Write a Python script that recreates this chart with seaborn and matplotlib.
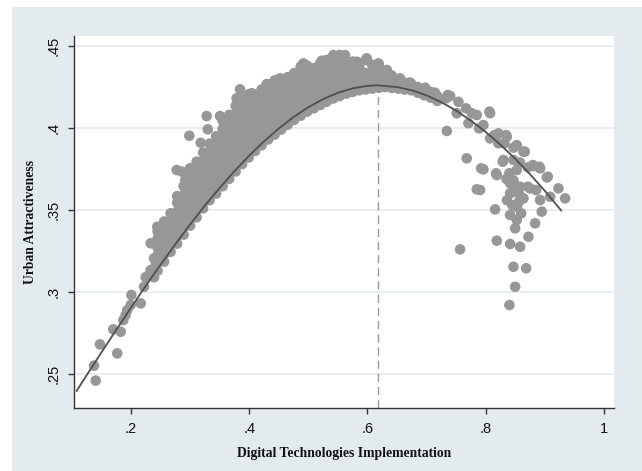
import numpy as np
import pandas as pd
import matplotlib
matplotlib.use("Agg")
import matplotlib.pyplot as plt
from matplotlib.patches import Rectangle
import seaborn as sns

# ---------------- data ----------------
left_x = [0.1403, 0.1374, 0.1475, 0.1768, 0.1700, 0.1826, 0.1870, 0.1910, 0.1937, 0.1995,
          0.2006, 0.2164, 0.2220, 0.2248, 0.2305, 0.2333, 0.2390, 0.2390, 0.2333, 0.2418,
          0.2474, 0.2445]
left_y = [0.2460, 0.2551, 0.2681, 0.2626, 0.2773, 0.2758, 0.2829, 0.2860, 0.2890, 0.2921,
          0.2982, 0.2931, 0.3032, 0.3090, 0.3104, 0.3134, 0.3090, 0.3205, 0.3297, 0.3165,
          0.3317, 0.3398]

cloud_col_x = [0.245, 0.256, 0.267, 0.278, 0.289, 0.300, 0.311, 0.322, 0.333, 0.344,
               0.355, 0.366, 0.377, 0.388, 0.399, 0.410, 0.421, 0.432, 0.443, 0.454,
               0.465, 0.476, 0.487, 0.498, 0.509, 0.520, 0.531, 0.542, 0.553, 0.564,
               0.575, 0.586, 0.597, 0.608, 0.619, 0.630, 0.641, 0.652, 0.663, 0.674,
               0.685, 0.696, 0.707, 0.718]
cloud_col_y = [
    [0.313, 0.318, 0.3225, 0.327, 0.3325, 0.337],
    [0.3185, 0.323, 0.328, 0.3335, 0.338, 0.343],
    [0.3245, 0.329, 0.334, 0.3385, 0.3435, 0.348],
    [0.3295, 0.334, 0.3395, 0.344, 0.349, 0.3545, 0.3585],
    [0.335, 0.3395, 0.3445, 0.3495, 0.354, 0.359, 0.3645],
    [0.3405, 0.3455, 0.350, 0.355, 0.3595, 0.365, 0.370, 0.3755],
    [0.3455, 0.350, 0.355, 0.3595, 0.3645, 0.369, 0.374, 0.3795],
    [0.351, 0.3555, 0.360, 0.365, 0.370, 0.3745, 0.380, 0.385],
    [0.356, 0.3605, 0.366, 0.3705, 0.3755, 0.3805, 0.386, 0.3905],
    [0.360, 0.365, 0.370, 0.3745, 0.380, 0.3845, 0.390, 0.395],
    [0.3645, 0.3695, 0.3745, 0.3795, 0.3845, 0.3895, 0.3945, 0.3995, 0.4045],
    [0.369, 0.374, 0.379, 0.3835, 0.389, 0.394, 0.3985, 0.4035, 0.408],
    [0.3735, 0.3785, 0.3835, 0.3885, 0.3935, 0.3985, 0.4035, 0.4085, 0.4135],
    [0.378, 0.383, 0.388, 0.3925, 0.3975, 0.4025, 0.4075, 0.4125, 0.4175],
    [0.382, 0.387, 0.392, 0.397, 0.4015, 0.4065, 0.4115, 0.4165, 0.4205],
    [0.386, 0.391, 0.396, 0.4005, 0.4055, 0.4105, 0.4155, 0.4205],
    [0.3895, 0.394, 0.399, 0.404, 0.409, 0.414, 0.419, 0.4235],
    [0.393, 0.398, 0.4025, 0.4075, 0.4125, 0.4175, 0.422, 0.4265],
    [0.396, 0.401, 0.406, 0.411, 0.416, 0.4205, 0.425, 0.429],
    [0.399, 0.404, 0.409, 0.414, 0.419, 0.424, 0.4285],
    [0.402, 0.407, 0.412, 0.417, 0.422, 0.4265, 0.431],
    [0.405, 0.410, 0.415, 0.420, 0.425, 0.4295, 0.4335],
    [0.4075, 0.4125, 0.4175, 0.4225, 0.4275, 0.4325, 0.4375],
    [0.410, 0.415, 0.420, 0.425, 0.430, 0.4345, 0.438],
    [0.412, 0.417, 0.422, 0.427, 0.432, 0.4365],
    [0.414, 0.419, 0.424, 0.429, 0.434, 0.4395],
    [0.416, 0.421, 0.426, 0.431, 0.436, 0.4415],
    [0.418, 0.423, 0.428, 0.433, 0.438, 0.4435],
    [0.4195, 0.4245, 0.4295, 0.4345, 0.4395, 0.4445],
    [0.421, 0.426, 0.431, 0.436, 0.441],
    [0.422, 0.427, 0.432, 0.4365, 0.4405],
    [0.423, 0.428, 0.433, 0.4375],
    [0.4235, 0.4285, 0.4335, 0.4415],
    [0.424, 0.429, 0.434, 0.4385],
    [0.4245, 0.4295, 0.4345, 0.439],
    [0.425, 0.4295, 0.4345],
    [0.4245, 0.4285, 0.432],
    [0.424, 0.4285],
    [0.4235, 0.4275],
    [0.423, 0.427],
    [0.4215, 0.425],
    [0.420, 0.4235],
    [0.4185, 0.422],
    [0.4165, 0.4195],
]

top_x = [0.2773, 0.2858, 0.2920, 0.2987, 0.3179, 0.3280, 0.3298, 0.3505, 0.3787, 0.3844,
         0.4042, 0.4296, 0.4521, 0.4916, 0.5227, 0.5424, 0.5620, 0.5819, 0.5988, 0.6184,
         0.6327, 0.6383, 0.6550, 0.6720, 0.6975, 0.7144]
top_y = [0.3744, 0.3734, 0.3683, 0.3953, 0.3910, 0.4073, 0.3992, 0.4073, 0.4181, 0.4236,
         0.4212, 0.4268, 0.4303, 0.4394, 0.4410, 0.4445, 0.4445, 0.4404, 0.4425, 0.4394,
         0.4354, 0.4323, 0.4303, 0.4277, 0.4246, 0.4215]

right_x = [0.7342, 0.7330, 0.7398, 0.7358, 0.7538, 0.7510, 0.7668, 0.7764, 0.7849, 0.8063,
           0.8074, 0.7707, 0.7961, 0.7888, 0.8074, 0.8148, 0.8215, 0.8345, 0.8356, 0.8215,
           0.8317, 0.8470, 0.8525, 0.8638, 0.8660, 0.8300, 0.8288, 0.8469, 0.8580, 0.7679,
           0.7961, 0.7922, 0.8187, 0.8176, 0.8400, 0.8525, 0.8712, 0.8797, 0.8806, 0.8909,
           0.8920, 0.9033, 0.9050, 0.7849, 0.7905, 0.8413, 0.8470, 0.8582, 0.8712, 0.8751,
           0.8853, 0.8413, 0.8500, 0.8638, 0.8560, 0.8920, 0.9089, 0.9230, 0.9343, 0.8525,
           0.8159, 0.8413, 0.8948, 0.8836, 0.8525, 0.8498, 0.8723, 0.8187, 0.8413, 0.8582,
           0.7567, 0.8469, 0.8684, 0.8498, 0.8401, 0.8350, 0.8560, 0.8450, 0.8600, 0.8360]
right_y = [0.3982, 0.4181, 0.4195, 0.4201, 0.4160, 0.4090, 0.4120, 0.4090, 0.4079, 0.4100,
           0.4090, 0.4029, 0.4018, 0.3998, 0.3937, 0.3957, 0.3967, 0.3957, 0.3947, 0.3907,
           0.3907, 0.3880, 0.3896, 0.3856, 0.3856, 0.3805, 0.3795, 0.3805, 0.3790, 0.3815,
           0.3748, 0.3754, 0.3713, 0.3724, 0.3724, 0.3744, 0.3760, 0.3774, 0.3768, 0.3764,
           0.3754, 0.3699, 0.3703, 0.3626, 0.3622, 0.3663, 0.3680, 0.3642, 0.3642, 0.3632,
           0.3622, 0.3602, 0.3620, 0.3571, 0.3600, 0.3561, 0.3581, 0.3632, 0.3571, 0.3520,
           0.3504, 0.3470, 0.3490, 0.3419, 0.3439, 0.3388, 0.3337, 0.3313, 0.3293, 0.3276,
           0.3260, 0.3154, 0.3145, 0.3032, 0.2921, 0.3690, 0.3550, 0.3530, 0.3480, 0.3560]

# fitted curve
fit_x = [0.108, 0.125, 0.15, 0.175, 0.2, 0.225, 0.25, 0.275, 0.3, 0.325, 0.35, 0.375,
         0.4, 0.425, 0.45, 0.475, 0.5, 0.525, 0.55, 0.575, 0.6, 0.617, 0.65, 0.675,
         0.7, 0.725, 0.75, 0.775, 0.8, 0.825, 0.85, 0.875, 0.9, 0.928]
fit_y = [0.2397, 0.2493, 0.2632, 0.2769, 0.2905, 0.3038, 0.3167, 0.3291, 0.3412, 0.3527,
         0.3635, 0.3737, 0.3832, 0.3919, 0.3997, 0.4067, 0.4127, 0.4176, 0.4215, 0.4242,
         0.4257, 0.4260, 0.4250, 0.4230, 0.4199, 0.4157, 0.4106, 0.4045, 0.3976, 0.3898,
         0.3812, 0.3718, 0.3617, 0.3496]

peak_x = 0.617
peak_y = 0.426

x_ticks = [0.2, 0.4, 0.6, 0.8, 1.0]
x_tick_labels = [".2", ".4", ".6", ".8", "1"]
y_ticks = [0.25, 0.30, 0.35, 0.40, 0.45]
y_tick_labels = [".25", ".3", ".35", ".4", ".45"]

x_label = "Digital Technologies Implementation"
y_label = "Urban Attractiveness"

# ---------------- assemble ----------------
cx, cy = [], []
for xv, ys in zip(cloud_col_x, cloud_col_y):
    cx.extend([xv] * len(ys))
    cy.extend(ys)

pts = pd.DataFrame({
    "x": left_x + cx + top_x + right_x,
    "y": left_y + cy + top_y + right_y,
})
fit = pd.DataFrame({"x": fit_x, "y": fit_y})

# ---------------- plot ----------------
sns.set_theme(style="white")
plt.rcParams["font.family"] = ["Liberation Sans", "DejaVu Sans"]

fig = plt.figure(figsize=(6.42, 4.71), dpi=100, facecolor="white")
bg = Rectangle((12 / 642, 0), 1 - 12 / 642, 1 - 7 / 471, transform=fig.transFigure,
               facecolor="#e4ebef", edgecolor="none", zorder=-10)
fig.patches.append(bg)

ax = fig.add_axes([74 / 642, 1 - 408 / 471, (614 - 74) / 642, (408 - 36) / 471])
ax.set_facecolor("white")
ax.set_zorder(1)

x_lo, x_hi = 0.1036, 1.017
y_lo, y_hi = 0.2293, 0.4561

for yv in y_ticks:
    ax.axhline(yv, color="#e3ecf2", lw=1.2, zorder=0.5)

sns.scatterplot(data=pts, x="x", y="y", ax=ax, s=58, color="#979797",
                edgecolor="none", linewidth=0, zorder=2, legend=False)
pt_coll = ax.collections[-1]
pt_coll.set_edgecolor("none")
pt_coll.set_linewidth(0)

ax.vlines(peak_x, y_lo, peak_y, colors="#9a9a9a", linestyles=(0, (6, 3.5)),
          lw=1.0, zorder=1.5)

sns.lineplot(data=fit, x="x", y="y", ax=ax, color="#4f4f4f", lw=1.3,
             sort=False, estimator=None, zorder=3)

ax.set_xlim(x_lo, x_hi)
ax.set_ylim(y_lo, y_hi)

ax.set_xticks(x_ticks)
ax.set_xticklabels(x_tick_labels)
ax.set_yticks(y_ticks)
ax.set_yticklabels(y_tick_labels, rotation=90, va="center")

ax.tick_params(axis="both", which="both", direction="out", length=4.5, width=1,
               color="#333333", labelsize=10.5, labelcolor="#111111")
ax.tick_params(axis="x", pad=5.5)
ax.tick_params(axis="y", pad=5)
ax.xaxis.set_ticks_position("bottom")
ax.yaxis.set_ticks_position("left")

for side in ["top", "right"]:
    ax.spines[side].set_visible(False)
for side in ["left", "bottom"]:
    ax.spines[side].set_color("#333333")
    ax.spines[side].set_linewidth(1.0)

ax.set_xlabel(x_label, fontfamily="Liberation Serif", fontweight="bold",
              fontsize=9.8, color="#111111", labelpad=8)
ax.set_ylabel(y_label, fontfamily="Liberation Serif", fontweight="bold",
              fontsize=9.8, color="#111111", labelpad=7)

fig.savefig("out.png", dpi=100, facecolor=fig.get_facecolor())
